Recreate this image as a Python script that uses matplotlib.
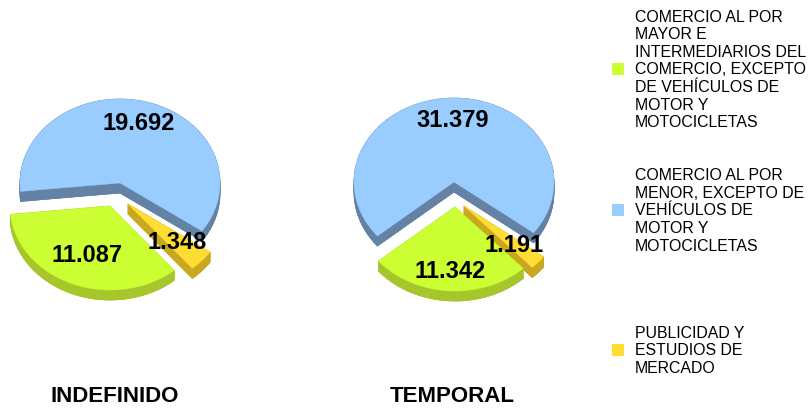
import numpy as np
import matplotlib
matplotlib.use("Agg")
import matplotlib.pyplot as plt
from matplotlib.patches import Polygon, Rectangle

plt.rcParams['font.family'] = ['Liberation Sans', 'DejaVu Sans']

# data
categories = [
    "COMERCIO AL POR\nMAYOR E\nINTERMEDIARIOS DEL\nCOMERCIO, EXCEPTO\nDE VEHÍCULOS DE\nMOTOR Y\nMOTOCICLETAS",
    "COMERCIO AL POR\nMENOR, EXCEPTO DE\nVEHÍCULOS DE\nMOTOR Y\nMOTOCICLETAS",
    "PUBLICIDAD Y\nESTUDIOS DE\nMERCADO",
]
titles = ["INDEFINIDO", "TEMPORAL"]
indefinido = [11.087, 19.692, 1.348]
temporal = [11.342, 31.379, 1.191]
labels_indef = ["11.087", "19.692", "1.348"]
labels_temp = ["11.342", "31.379", "1.191"]

top_colors = ["#CCFF33", "#99CCFF", "#FFDD33"]
side_colors = ["#A6C62C", "#6482A4", "#C9A81F"]

# layout (pixels)
RX, RY, DEPTH = 100, 84, 10
charts = [
    dict(vals=indefinido, labs=labels_indef, center=(120, 184), start=140,
         explode=[(-10, 23), (0, 0), (8, 21)], title_x=115,
         label_r=[0.62, 0.74, 0.66]),
    dict(vals=temporal, labs=labels_temp, center=(454, 183), start=137,
         explode=[(1, 25), (0, 0), (10, 24)], title_x=452,
         label_r=[0.76, 0.75, 0.68]),
]

fig = plt.figure(figsize=(8.1, 4.1), dpi=100)
ax = fig.add_axes([0, 0, 1, 1])
ax.set_xlim(0, 810)
ax.set_ylim(410, 0)
ax.axis("off")


def slice_points(cx, cy, a0, a1):
    # angles clockwise from 12 o'clock, in degrees
    t = np.radians(np.linspace(90 - a0, 90 - a1, 80))
    xs = cx + RX * np.cos(t)
    ys = cy - RY * np.sin(t)
    return np.vstack([[cx, cy], np.column_stack([xs, ys])])


for n_chart, ch in enumerate(charts):
    vals = np.array(ch["vals"])
    fr = vals / vals.sum() * 360
    bounds = ch["start"] + np.concatenate([[0], np.cumsum(fr)])
    for i in [1, 2, 0]:
        a0, a1 = bounds[i], bounds[i + 1]
        dx, dy = ch["explode"][i]
        cx, cy = ch["center"][0] + dx, ch["center"][1] + dy
        pts = slice_points(cx, cy, a0, a1)
        sc = side_colors[i]
        # side walls: bottom copy + swept edges
        ax.add_patch(Polygon(pts + [0, DEPTH], closed=True, fc=sc, ec=sc, lw=0.5))
        n = len(pts)
        for k in range(n):
            p, q = pts[k], pts[(k + 1) % n]
            quad = [p, q, q + [0, DEPTH], p + [0, DEPTH]]
            ax.add_patch(Polygon(quad, closed=True, fc=sc, ec=sc, lw=0.5))
        ax.add_patch(Polygon(pts, closed=True, fc=top_colors[i], ec=top_colors[i], lw=0.3))
        mid = np.radians(90 - (a0 + a1) / 2)
        r = ch["label_r"][i]
        lx = cx + RX * r * np.cos(mid)
        ly = cy - RY * r * np.sin(mid)
        ax.text(lx, ly, ch["labs"][i], ha="center", va="center",
                fontsize=17, fontweight="bold", color="black", zorder=10)
    ax.text(ch["title_x"], 397, titles[n_chart], ha="center", va="center",
            fontsize=16, fontweight="bold")

# legend
leg_y = [70, 211, 351]
for cat, col, y in zip(categories, top_colors, leg_y):
    ax.add_patch(Rectangle((612, y - 6), 12, 12, fc=col, ec="none"))
    ax.text(635, y, cat, ha="left", va="center", fontsize=11.4, linespacing=1.22)

fig.savefig("out.png", dpi=100)
